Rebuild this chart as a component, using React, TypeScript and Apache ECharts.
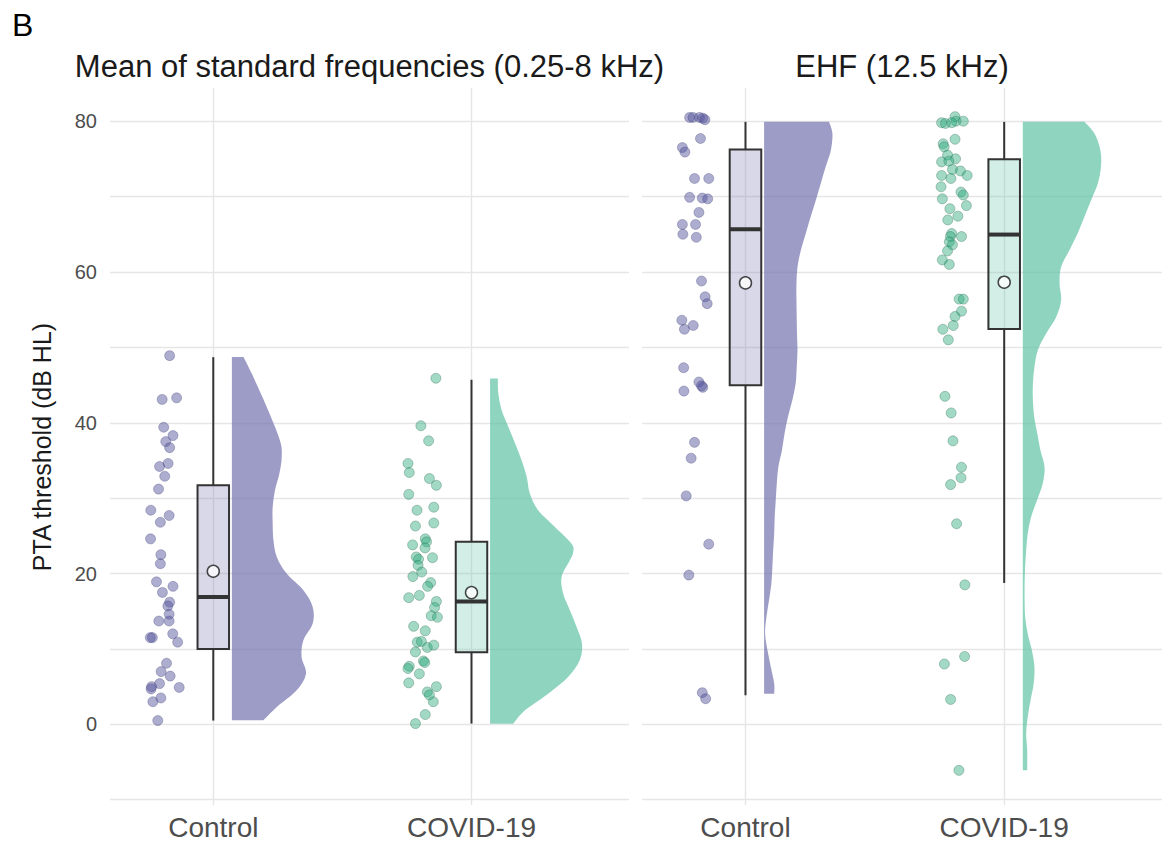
import React, { useEffect, useRef } from "react";
import * as echarts from "echarts";

const GROUPS = ["Control", "COVID-19"];
const PANEL_TITLES = ["Mean of standard frequencies (0.25-8 kHz)", "EHF (12.5 kHz)"];
const Y_LABELS = [0, 20, 40, 60, 80];
const Y_GRID = [-10, 0, 10, 20, 30, 40, 50, 60, 70, 80];
const X_TICKS = [1, 2];

// Individual thresholds: [horizontal jitter, PTA threshold (dB HL)]
const stdControlPts = [
  [-0.169, 48.9], [-0.198, 43.1], [-0.142, 43.3], [-0.192, 39.4], [-0.156, 38.3], [-0.184, 37.5],
  [-0.169, 36.7], [-0.175, 34.6], [-0.208, 34.2], [-0.188, 32.9], [-0.212, 31.2], [-0.242, 28.4],
  [-0.171, 27.7], [-0.205, 26.8], [-0.243, 24.6], [-0.203, 22.5], [-0.205, 21.3], [-0.22, 18.9],
  [-0.156, 18.3], [-0.197, 17.5], [-0.169, 16.2], [-0.176, 15.7], [-0.171, 14.6], [-0.211, 13.7],
  [-0.171, 13.7], [-0.157, 12.0], [-0.236, 11.5], [-0.244, 11.5], [-0.138, 10.9], [-0.181, 8.1],
  [-0.202, 7.0], [-0.167, 6.4], [-0.208, 5.4], [-0.239, 5.0], [-0.132, 4.9], [-0.241, 4.7],
  [-0.203, 3.5], [-0.234, 3.0], [-0.215, 0.5],
];
const stdCovidPts = [
  [-0.138, 45.9], [-0.196, 39.6], [-0.166, 37.6], [-0.246, 34.6], [-0.241, 33.4], [-0.163, 32.6],
  [-0.136, 31.7], [-0.243, 30.5], [-0.211, 28.4], [-0.146, 28.8], [-0.217, 26.3], [-0.146, 26.7],
  [-0.179, 24.6], [-0.174, 24.2], [-0.228, 23.8], [-0.18, 23.4], [-0.151, 22.1], [-0.214, 22.2],
  [-0.205, 21.9], [-0.207, 21.1], [-0.193, 20.2], [-0.227, 19.6], [-0.158, 18.8], [-0.17, 18.3],
  [-0.243, 16.8], [-0.202, 17.1], [-0.136, 16.3], [-0.143, 15.5], [-0.156, 14.4], [-0.132, 14.2],
  [-0.224, 13.0], [-0.179, 12.4], [-0.21, 10.9], [-0.194, 11.0], [-0.171, 10.2], [-0.146, 10.5],
  [-0.217, 9.6], [-0.186, 8.4], [-0.241, 7.7], [-0.246, 7.4], [-0.181, 8.2], [-0.202, 6.7],
  [-0.243, 5.5], [-0.136, 5.0], [-0.171, 4.3], [-0.163, 3.9], [-0.148, 3.0], [-0.179, 1.3],
  [-0.217, 0.1],
];
const ehfControlPts = [
  [-0.216, 80.5], [-0.203, 80.5], [-0.178, 80.5], [-0.165, 80.4], [-0.157, 80.2], [-0.174, 77.7],
  [-0.244, 76.5], [-0.234, 75.9], [-0.197, 72.4], [-0.142, 72.4], [-0.216, 69.9], [-0.167, 69.8],
  [-0.146, 69.7], [-0.18, 67.9], [-0.244, 66.3], [-0.193, 66.3], [-0.242, 65.0], [-0.19, 64.6],
  [-0.17, 58.8], [-0.156, 56.7], [-0.148, 55.8], [-0.246, 53.6], [-0.236, 52.4], [-0.202, 52.9],
  [-0.239, 47.3], [-0.18, 45.4], [-0.165, 44.7], [-0.17, 44.9], [-0.238, 44.2], [-0.197, 37.4],
  [-0.21, 35.3], [-0.229, 30.3], [-0.142, 23.9], [-0.219, 19.8], [-0.167, 4.2], [-0.154, 3.4],
];
const ehfCovidPts = [
  [-0.242, 79.8], [-0.227, 79.7], [-0.19, 80.6], [-0.186, 80.0], [-0.158, 80.0], [-0.203, 79.8],
  [-0.19, 77.6], [-0.236, 77.0], [-0.232, 76.6], [-0.219, 75.5], [-0.188, 75.0], [-0.242, 74.6],
  [-0.214, 74.7], [-0.2, 73.6], [-0.169, 73.4], [-0.143, 72.8], [-0.242, 72.8], [-0.206, 72.4],
  [-0.244, 71.3], [-0.167, 70.6], [-0.158, 70.2], [-0.239, 69.7], [-0.146, 68.8], [-0.21, 68.4],
  [-0.179, 67.4], [-0.218, 66.9], [-0.165, 64.7], [-0.203, 65.1], [-0.208, 64.7], [-0.212, 64.0],
  [-0.2, 63.6], [-0.219, 62.8], [-0.239, 61.6], [-0.212, 61.0], [-0.174, 56.4], [-0.158, 56.4],
  [-0.165, 54.8], [-0.19, 54.1], [-0.197, 52.9], [-0.237, 52.4], [-0.216, 51.0], [-0.229, 43.5],
  [-0.205, 41.3], [-0.198, 37.6], [-0.165, 34.1], [-0.167, 32.7], [-0.207, 31.8], [-0.184, 26.6],
  [-0.152, 18.5], [-0.153, 9.0], [-0.231, 8.0], [-0.207, 3.3], [-0.175, -6.1],
];

// Box summaries: [lower whisker, Q1, median, Q3, upper whisker]
const stdControlBox = [0.5, 10.0, 16.9, 31.7, 48.7];
const stdCovidBox = [0.1, 9.55, 16.3, 24.2, 45.7];
const ehfControlBox = [3.85, 44.97, 65.67, 76.24, 79.91];
const ehfCovidBox = [18.75, 52.45, 64.96, 74.96, 79.91];

// Group means
const stdMeans = [20.3, 17.47];
const ehfMeans = [58.55, 58.64];

// Half-violin outlines: [threshold, scaled density]
const stdControlDensity = [
  [48.73, 0.045], [46.52, 0.077], [42.1, 0.135], [37.68, 0.186], [35.47, 0.193], [33.26, 0.184],
  [31.04, 0.167], [28.83, 0.158], [26.62, 0.158], [24.41, 0.161], [22.2, 0.174], [19.99, 0.212],
  [17.78, 0.277], [15.57, 0.313], [13.36, 0.313], [11.14, 0.277], [8.93, 0.27], [6.72, 0.287],
  [4.51, 0.251], [2.3, 0.174], [0.53, 0.122],
];
const stdCovidDensity = [
  [45.86, 0.03], [43.87, 0.032], [41.66, 0.045], [39.45, 0.071], [37.24, 0.097], [35.03, 0.122],
  [32.81, 0.142], [30.6, 0.154], [28.39, 0.186], [26.18, 0.251], [23.97, 0.315], [22.86, 0.322],
  [21.76, 0.309], [19.55, 0.277], [17.34, 0.283], [15.12, 0.309], [12.91, 0.335], [10.7, 0.356],
  [8.49, 0.347], [6.28, 0.302], [4.07, 0.225], [1.86, 0.135], [0.09, 0.09],
];
const ehfControlDensity = [
  [79.91, 0.251], [78.36, 0.264], [76.15, 0.258], [73.94, 0.238], [71.73, 0.219], [69.52, 0.2],
  [67.31, 0.18], [65.1, 0.161], [62.89, 0.142], [60.67, 0.129], [58.46, 0.125], [56.25, 0.125],
  [54.04, 0.126], [51.83, 0.127], [49.62, 0.129], [47.41, 0.126], [45.2, 0.122], [42.99, 0.109],
  [40.77, 0.092], [38.56, 0.079], [36.35, 0.069], [34.14, 0.055], [31.93, 0.049], [29.72, 0.045],
  [27.51, 0.041], [25.3, 0.039], [23.08, 0.035], [20.87, 0.032], [18.66, 0.028], [16.45, 0.019],
  [14.24, 0.009], [12.03, 0.004], [9.82, 0.013], [7.61, 0.026], [5.4, 0.039], [4.07, 0.039],
];
const ehfCovidDensity = [
  [79.91, 0.238], [78.36, 0.277], [76.15, 0.3], [73.94, 0.302], [71.73, 0.29], [69.52, 0.264],
  [67.31, 0.238], [65.1, 0.212], [62.89, 0.18], [60.67, 0.148], [58.46, 0.142], [56.25, 0.148],
  [54.04, 0.129], [51.83, 0.09], [49.62, 0.058], [47.41, 0.045], [45.2, 0.039], [42.99, 0.039],
  [40.77, 0.044], [38.56, 0.056], [36.35, 0.068], [34.14, 0.084], [31.93, 0.077], [29.72, 0.055],
  [27.51, 0.032], [25.3, 0.019], [23.08, 0.013], [20.87, 0.009], [18.66, 0.007], [16.45, 0.007],
  [14.24, 0.009], [12.03, 0.019], [9.82, 0.035], [7.61, 0.045], [5.4, 0.042], [3.19, 0.03],
  [0.98, 0.019], [-1.23, 0.013], [-3.44, 0.017], [-6.1, 0.017],
];

const FONT = "'Liberation Sans', Arial, Helvetica, sans-serif";
const GRID_COLOR = "#e6e6e6";
const VIOLIN_GAP = 0.072;
const BOX_HALF = 0.061;

const PALETTE = [
  {
    violin: "rgba(114,114,174,0.7)",
    box: "rgba(114,114,174,0.28)",
    point: "rgba(84,84,156,0.6)",
    pointBorder: "rgba(60,60,115,0.4)",
  },
  {
    violin: "rgba(95,194,164,0.7)",
    box: "rgba(95,194,164,0.28)",
    point: "rgba(40,168,124,0.55)",
    pointBorder: "rgba(50,110,90,0.45)",
  },
];

const PANELS = [
  {
    points: [stdControlPts, stdCovidPts],
    boxes: [stdControlBox, stdCovidBox],
    means: stdMeans,
    density: [stdControlDensity, stdCovidDensity],
  },
  {
    points: [ehfControlPts, ehfCovidPts],
    boxes: [ehfControlBox, ehfCovidBox],
    means: ehfMeans,
    density: [ehfControlDensity, ehfCovidDensity],
  },
];

// Smooth outline through pixel points (Catmull-Rom converted to cubic Béziers).
function smoothEdge(pts: number[][]): string {
  let d = "";
  for (let i = 0; i < pts.length - 1; i++) {
    const p0 = pts[Math.max(0, i - 1)];
    const p1 = pts[i];
    const p2 = pts[i + 1];
    const p3 = pts[Math.min(pts.length - 1, i + 2)];
    const c1x = p1[0] + (p2[0] - p0[0]) / 6;
    const c1y = p1[1] + (p2[1] - p0[1]) / 6;
    const c2x = p2[0] - (p3[0] - p1[0]) / 6;
    const c2y = p2[1] - (p3[1] - p1[1]) / 6;
    d += ` C ${c1x} ${c1y} ${c2x} ${c2y} ${p2[0]} ${p2[1]}`;
  }
  return d;
}

function buildSeries() {
  const series: any[] = [];
  PANELS.forEach((panel, p) => {
    panel.density.forEach((profile, g) => {
      const pos = g + 1;
      series.push({
        type: "custom",
        xAxisIndex: p,
        yAxisIndex: p,
        z: 2,
        silent: true,
        data: [[pos, profile[0][0]]],
        encode: { x: 0, y: 1 },
        renderItem: (_params: any, api: any) => {
          const edge = profile.map(([v, w]) => api.coord([pos + VIOLIN_GAP + w, v]));
          const top = api.coord([pos + VIOLIN_GAP, profile[0][0]]);
          const bottom = api.coord([pos + VIOLIN_GAP, profile[profile.length - 1][0]]);
          const pathData =
            `M ${top[0]} ${top[1]} L ${edge[0][0]} ${edge[0][1]}` +
            smoothEdge(edge) +
            ` L ${bottom[0]} ${bottom[1]} Z`;
          return {
            type: "path",
            shape: { pathData },
            style: { fill: PALETTE[g].violin, stroke: "none" },
          };
        },
      });
    });

    series.push({
      type: "custom",
      xAxisIndex: p,
      yAxisIndex: p,
      z: 3,
      silent: true,
      data: panel.boxes.map((b, g) => [g + 1, ...b]),
      encode: { x: 0, y: [1, 2, 3, 4, 5] },
      renderItem: (params: any, api: any) => {
        const x = api.value(0);
        const g = params.dataIndex;
        const lo = api.coord([x, api.value(1)]);
        const q1 = api.coord([x, api.value(2)]);
        const med = api.coord([x, api.value(3)]);
        const q3 = api.coord([x, api.value(4)]);
        const hi = api.coord([x, api.value(5)]);
        const left = api.coord([x - BOX_HALF, 0])[0];
        const right = api.coord([x + BOX_HALF, 0])[0];
        const stroke = "#333333";
        return {
          type: "group",
          children: [
            {
              type: "line",
              shape: { x1: hi[0], y1: hi[1], x2: q3[0], y2: q3[1] },
              style: { stroke, lineWidth: 2 },
            },
            {
              type: "line",
              shape: { x1: q1[0], y1: q1[1], x2: lo[0], y2: lo[1] },
              style: { stroke, lineWidth: 2 },
            },
            {
              type: "rect",
              shape: { x: left, y: q3[1], width: right - left, height: q1[1] - q3[1] },
              style: { fill: PALETTE[g].box, stroke, lineWidth: 2 },
            },
            {
              type: "line",
              shape: { x1: left, y1: med[1], x2: right, y2: med[1] },
              style: { stroke, lineWidth: 4 },
            },
          ],
        };
      },
    });

    panel.points.forEach((pts, g) => {
      series.push({
        type: "scatter",
        xAxisIndex: p,
        yAxisIndex: p,
        z: 4,
        symbol: "circle",
        symbolSize: 10,
        silent: true,
        itemStyle: {
          color: PALETTE[g].point,
          borderColor: PALETTE[g].pointBorder,
          borderWidth: 1,
        },
        data: pts.map(([dx, v]) => [g + 1 + dx, v]),
      });
    });

    series.push({
      type: "scatter",
      xAxisIndex: p,
      yAxisIndex: p,
      z: 5,
      symbol: "circle",
      symbolSize: 12,
      silent: true,
      itemStyle: { color: "#ffffff", borderColor: "#1a1a1a", borderWidth: 1.5 },
      data: panel.means.map((m, g) => [g + 1, m]),
    });
  });
  return series;
}

function buildOption() {
  const grids = [
    { left: 110, top: 88, width: 519, height: 717 },
    { left: 642, top: 88, width: 520, height: 717 },
  ];
  const xAxes = grids.map((_, p) => ({
    type: "value",
    gridIndex: p,
    min: 0.6,
    max: 2.61,
    axisLine: { show: false },
    axisTick: { show: false, customValues: X_TICKS },
    splitLine: { show: true, lineStyle: { color: GRID_COLOR, width: 1.4 } },
    axisLabel: {
      customValues: X_TICKS,
      formatter: (v: number) => GROUPS[Math.round(v) - 1] ?? "",
      fontSize: 28,
      fontFamily: FONT,
      color: "#4d4d4d",
      margin: 8,
    },
  }));
  const yAxes = grids.map((_, p) => ({
    type: "value",
    gridIndex: p,
    min: -10.7,
    max: 84.4,
    axisLine: { show: false },
    axisTick: { show: false, customValues: Y_GRID },
    splitLine: { show: true, lineStyle: { color: GRID_COLOR, width: 1.4 } },
    axisLabel:
      p === 0
        ? {
            customValues: Y_LABELS,
            fontSize: 20,
            fontFamily: FONT,
            color: "#4d4d4d",
            margin: 13,
          }
        : { show: false },
  }));

  return {
    animation: false,
    backgroundColor: "#ffffff",
    grid: grids,
    xAxis: xAxes,
    yAxis: yAxes,
    series: buildSeries(),
    graphic: [
      {
        type: "text",
        x: 12,
        y: 25,
        style: {
          text: "B",
          font: `32px ${FONT}`,
          fill: "#000000",
          textAlign: "left",
          textVerticalAlign: "middle",
        },
      },
      ...PANEL_TITLES.map((t, p) => ({
        type: "text",
        x: grids[p].left + grids[p].width / 2,
        y: 66,
        style: {
          text: t,
          font: `31px ${FONT}`,
          fill: "#1a1a1a",
          textAlign: "center",
          textVerticalAlign: "middle",
        },
      })),
      {
        type: "text",
        x: 42,
        y: 447,
        rotation: Math.PI / 2,
        style: {
          text: "PTA threshold (dB HL)",
          font: `25px ${FONT}`,
          fill: "#1a1a1a",
          textAlign: "center",
          textVerticalAlign: "middle",
        },
      },
    ],
  };
}

export default function App() {
  const ref = useRef<HTMLDivElement>(null);
  useEffect(() => {
    if (!ref.current) return;
    const chart = echarts.init(ref.current, undefined, { renderer: "svg" });
    chart.setOption(buildOption());
    return () => chart.dispose();
  }, []);
  return (
    <div
      ref={ref}
      style={{ position: "fixed", left: 0, top: 0, width: 1163, height: 844, background: "#fff" }}
    />
  );
}
